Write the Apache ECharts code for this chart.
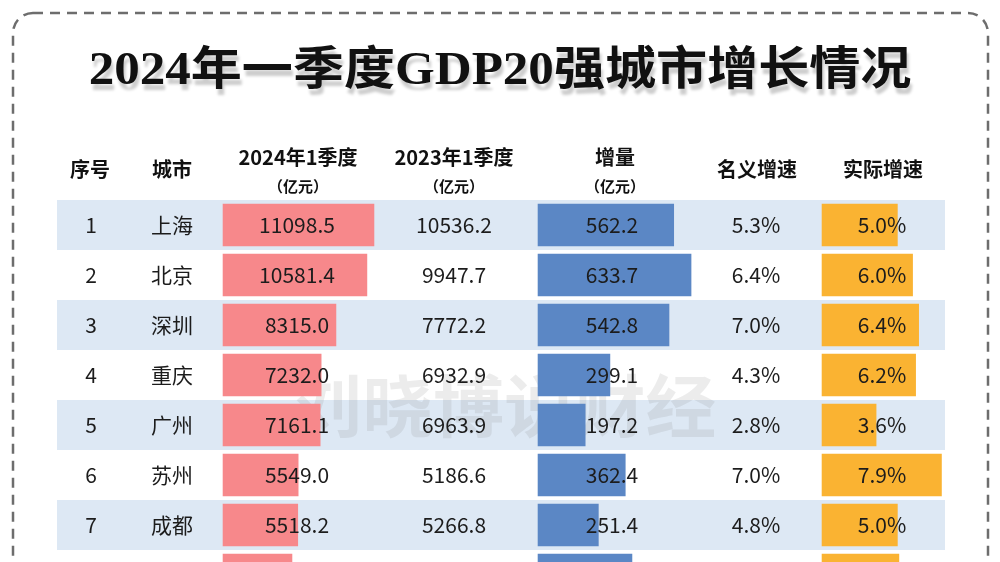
<!DOCTYPE html>
<html>
<head>
<meta charset="utf-8">
<script src="https://cdn.jsdelivr.net/npm/echarts@6/dist/echarts.min.js"></script>
<style>html,body{margin:0;padding:0;background:#fff}#c{width:1000px;height:562px}</style>
</head>
<body>
<div id="c"></div>
<script>
// ---- data (row 8 is only partly visible at the bottom edge: bars only) ----
const ranks = ['1', '2', '3', '4', '5', '6', '7', '8'];
const cities = ['上海', '北京', '深圳', '重庆', '广州', '苏州', '成都', ''];
const gdp2024 = [11098.5, 10581.4, 8315.0, 7232.0, 7161.1, 5549.0, 5518.2, 5095];
const gdp2023 = [10536.2, 9947.7, 7772.2, 6932.9, 6963.9, 5186.6, 5266.8, null];
const increment = [562.2, 633.7, 542.8, 299.1, 197.2, 362.4, 251.4, 390];
const nominalGrowth = [5.3, 6.4, 7.0, 4.3, 2.8, 7.0, 4.8, null];
const realGrowth = [5.0, 6.0, 6.4, 6.2, 3.6, 7.9, 5.0, 5.1];
const visibleRows = 7;
const headers = ['序号', '城市', '2024年1季度', '2023年1季度', '增量', '名义增速', '实际增速'];
const unitLabel = '（亿元）';
const titleText = '2024年一季度GDP20强城市增长情况';
const watermarkText = '刘晓博说财经';

// ---- text helpers ----
const num = (arr) => arr.map((v, i) => (i < visibleRows && v != null) ? v.toFixed(1) : '');
const pct = (arr) => arr.map((v, i) => (i < visibleRows && v != null) ? v.toFixed(1) + '%' : '');

// ---- layout ----
const FONT = '"Noto Sans CJK SC", "Noto Sans", sans-serif';
const TOP = 200, ROWH = 50, NROWS = ranks.length;
const tableLeft = 57, tableRight = 945;
const textColumns = [
  { data: ranks, x: 91 },
  { data: cities, x: 172 },
  { data: num(gdp2024), x: 297 },
  { data: num(gdp2023), x: 454 },
  { data: num(increment), x: 612 },
  { data: pct(nominalGrowth), x: 756 },
  { data: pct(realGrowth), x: 882 }
];
const headerX = [90, 172, 298, 454, 615, 757, 883];
const barColumns = [
  { values: gdp2024, left: 222.7, width: 163.9, max: 12000, color: '#f7888b' },
  { values: increment, left: 537.7, width: 169.75, max: 700, color: '#5b87c5' },
  { values: realGrowth, left: 821.7, width: 121.6, max: 8, color: '#fab332' }
];

const grids = [{ left: tableLeft, top: TOP, width: tableRight - tableLeft, height: ROWH * NROWS, containLabel: false, outerBoundsMode: 'none' }];
const xAxes = [{ gridIndex: 0, type: 'value', show: false }];
const yAxes = [{
  gridIndex: 0, type: 'category', inverse: true, data: ranks, z: 0,
  axisLine: { show: false }, axisTick: { show: false }, axisLabel: { show: false },
  splitLine: { show: false },
  splitArea: { show: true, interval: 0, areaStyle: { color: ['#dde8f4', '#ffffff'] } }
}];
textColumns.forEach(col => {
  yAxes.push({
    gridIndex: 0, type: 'category', inverse: true, data: col.data, position: 'left',
    offset: tableLeft - col.x, z: 10,
    axisLine: { show: false }, axisTick: { show: false },
    splitLine: { show: false }, splitArea: { show: false },
    axisLabel: { show: true, interval: 0, align: 'center', margin: 0, fontSize: 21, color: '#1c1c1c', fontFamily: FONT }
  });
});
const series = [];
barColumns.forEach((b, k) => {
  const gi = k + 1;
  grids.push({ left: b.left, top: TOP, width: b.width, height: ROWH * NROWS, containLabel: false, outerBoundsMode: 'none' });
  xAxes.push({ gridIndex: gi, type: 'value', min: 0, max: b.max, show: false });
  yAxes.push({ gridIndex: gi, type: 'category', inverse: true, data: ranks, show: false });
  series.push({
    type: 'bar', xAxisIndex: gi, yAxisIndex: yAxes.length - 1, data: b.values,
    barCategoryGap: '15%', itemStyle: { color: b.color }, z: 2, silent: true
  });
});

const graphics = [
  { type: 'rect', z: 0, shape: { x: 13, y: 13, width: 975, height: 620, r: 20 },
    style: { fill: 'none', stroke: '#6d6d6d', lineWidth: 2.5, lineDash: [10, 7] } },
  { type: 'text', x: 500, y: 72, scaleX: 1.11, z: 5,
    style: { text: titleText, textAlign: 'center', textVerticalAlign: 'middle', align: 'center', verticalAlign: 'middle',
      font: 'bold 46px "Liberation Serif", "Noto Sans CJK SC", serif', fill: '#111',
      textShadowColor: 'rgba(0,0,0,0.2)', textShadowOffsetX: 2, textShadowOffsetY: 6, textShadowBlur: 3 } },
  { type: 'text', x: 504, y: 406, scaleX: 1.04, z: 1,
    style: { text: watermarkText, textAlign: 'center', textVerticalAlign: 'middle', align: 'center', verticalAlign: 'middle',
      font: 'bold 68px ' + FONT, fill: 'rgba(130,130,130,0.15)' } }
];
headers.forEach((h, i) => {
  const twoLine = (i >= 2 && i <= 4);
  graphics.push({ type: 'text', x: headerX[i], y: twoLine ? 157 : 169, z: 5,
    style: { text: h, textAlign: 'center', textVerticalAlign: 'middle', align: 'center', verticalAlign: 'middle',
      font: 'bold 20px ' + FONT, fill: '#111' } });
  if (twoLine) {
    graphics.push({ type: 'text', x: headerX[i], y: 186, z: 5,
      style: { text: unitLabel, textAlign: 'center', textVerticalAlign: 'middle', align: 'center', verticalAlign: 'middle',
        font: 'bold 15px ' + FONT, fill: '#111' } });
  }
});

const chart = echarts.init(document.getElementById('c'), null, { renderer: 'canvas' });
chart.setOption({
  backgroundColor: '#ffffff',
  animation: false,
  grid: grids,
  xAxis: xAxes,
  yAxis: yAxes,
  series: series,
  graphic: graphics
});
</script>
</body>
</html>
